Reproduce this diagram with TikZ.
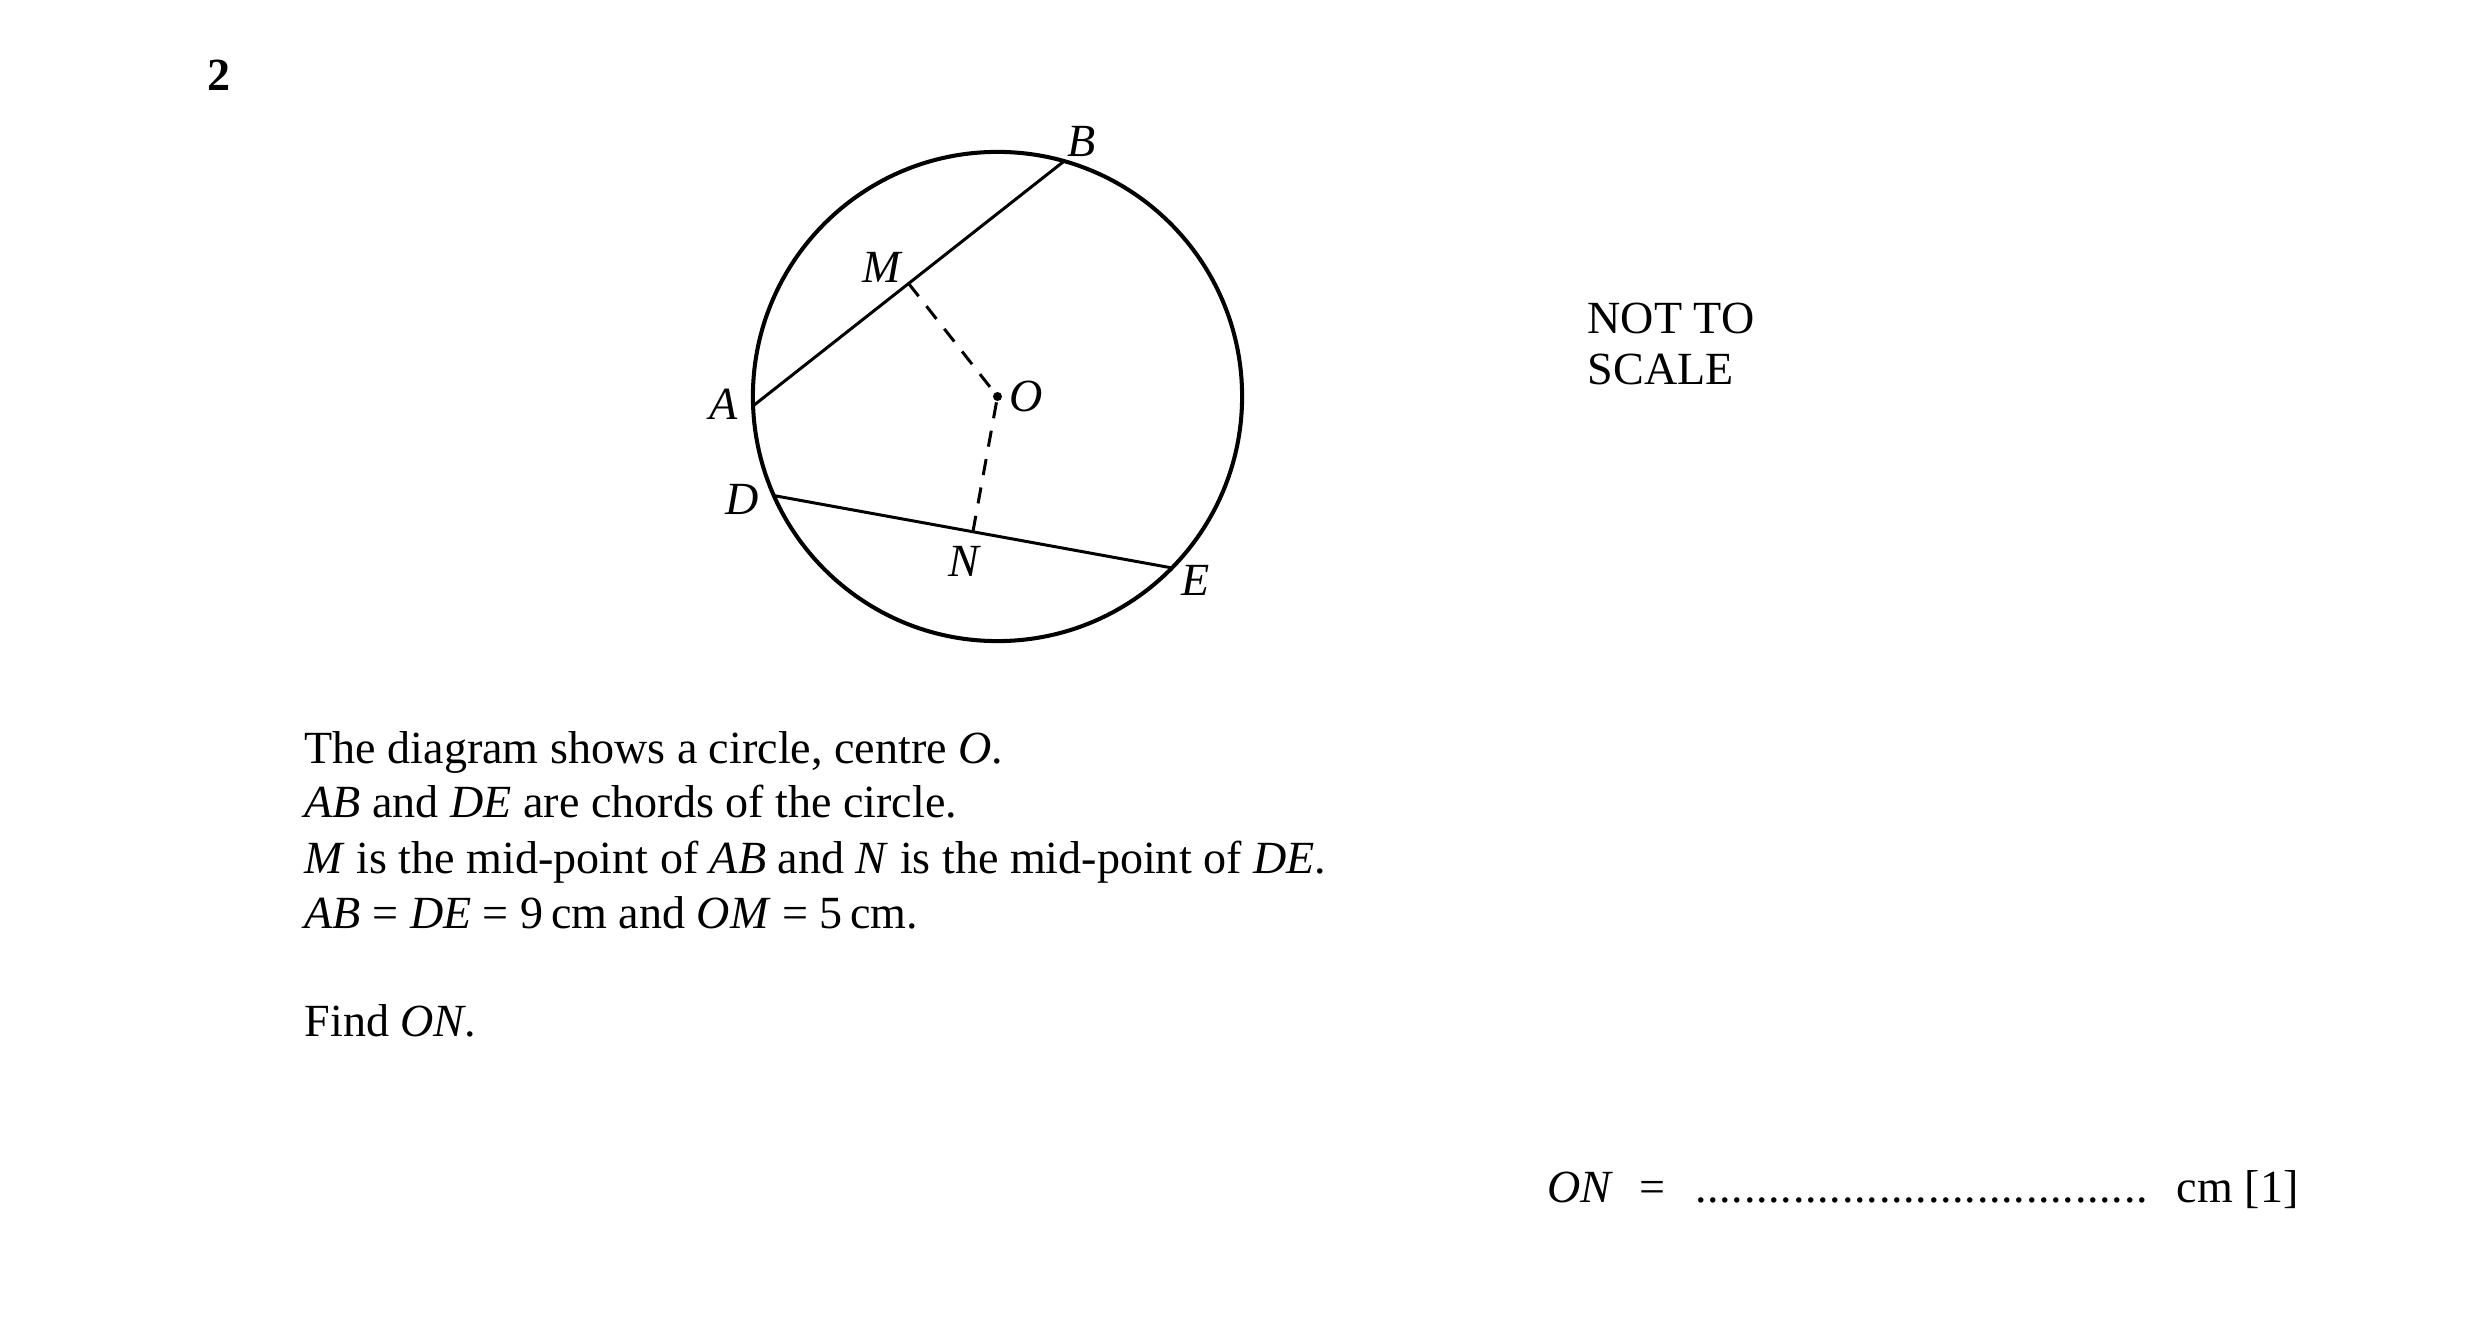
\documentclass[tikz,border=0pt]{standalone}
\usepackage{fontspec}
\setmainfont{Liberation Serif}
\usetikzlibrary{calc}
\tikzset{
  circ/.style={line width=1.15pt},
  chord/.style={line width=0.85pt},
  dashline/.style={line width=0.85pt, dash pattern=on 4.6pt off 3.6pt},
  lbl/.style={font=\fontsize{13.1}{15}\selectfont\itshape, inner sep=0pt},
  txt/.style={font=\fontsize{13.1}{15}\selectfont, inner sep=0pt, anchor=base west},
}
\begin{document}
\begin{tikzpicture}[x=0.01cm,y=-0.01cm]
\useasboundingbox (0,0) rectangle (2481,1328);
\fill[white] (0,0) rectangle (2481,1328);
% question number
\node[txt, anchor=center, font=\fontsize{13.1}{15}\selectfont\bfseries] (qn) at (219,75) {2};
% circle
\coordinate (O) at (997.5,396.5);
\draw[circ] (O) circle[radius=244.6];
\coordinate (A) at ($(O)+(177.8:244.6)$);
\coordinate (B) at ($(O)+(-74.2:244.6)$);
\coordinate (D) at ($(O)+(156.1:244.6)$);
\coordinate (E) at ($(O)+(44.5:244.6)$);
\coordinate (M) at ($(A)!0.5!(B)$);
\coordinate (N) at ($(D)!0.5!(E)$);
\draw[chord] (A) -- (B);
\draw[chord] (D) -- (E);
\draw[dashline] (M) -- (O);
\draw[dashline] (N) -- (O);
\fill (O) circle[radius=4.5];
% labels
\node[lbl] (lA) at (724,404) {A};
\node[lbl] (lB) at (1082,141) {B};
\node[lbl] (lM) at (882,267) {M};
\node[lbl] (lD) at (742,499) {D};
\node[lbl] (lE) at (1196,580) {E};
\node[lbl] (lN) at (964,561) {N};
\node[lbl] (lO) at (1026,396) {O};
% not to scale
\node[txt] (nts1) at (1587,334) {NOT TO};
\node[txt] (nts2) at (1587,385) {SCALE};
% text
\node[txt] (t1) at (304,764) {The diagram shows a circle, centre \textit{O}.};
\node[txt] (t2) at (304,818) {\textit{AB} and \textit{DE} are chords of the circle.};
\node[txt] (t3) at (304,874) {\textit{M} is the mid-point of \textit{AB} and \textit{N} is the mid-point of \textit{DE}.};
\node[txt] (t4) at (304,929) {\textit{AB} = \textit{DE} = 9\,cm and \textit{OM} = 5\,cm.};
\node[txt] (t5) at (304,1037) {Find \textit{ON}.};
% answer line
\node[txt] (ans) at (1547,1202) {\textit{ON}\hspace{0.55em}=\hspace{0.45em}\leaders\hbox to 0.1225cm{\hss.\hss}\hskip 4.655cm\hspace{0.55em}cm [1]};
\end{tikzpicture}
\end{document}
